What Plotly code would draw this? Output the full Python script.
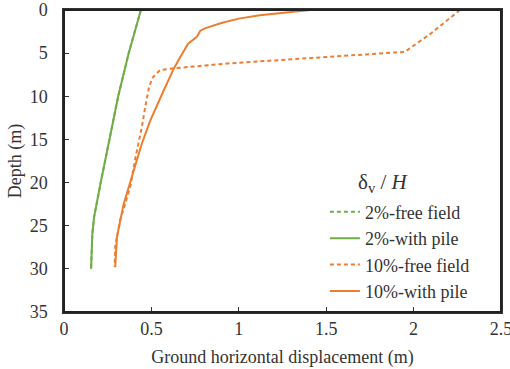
import plotly.graph_objects as go

# Depth (m) and ground horizontal displacement (m)
depth_g = [0, 5, 10, 12.8, 15, 20, 22, 24, 26, 28, 30]
g_free = [0.44, 0.37, 0.31, 0.28, 0.26, 0.21, 0.19, 0.172, 0.162, 0.157, 0.155]
g_pile = [0.44, 0.37, 0.31, 0.28, 0.26, 0.21, 0.19, 0.172, 0.162, 0.157, 0.155]

depth_o_free = [0, 2.7, 4.85, 5.6, 6.2, 6.75, 6.95, 7.9, 9.1, 11.2, 13.5, 17, 20.5, 24.3, 27.4, 29.8]
o_free = [2.265, 2.10, 1.95, 1.36, 0.935, 0.63, 0.55, 0.504, 0.485, 0.465, 0.446, 0.41, 0.379, 0.322, 0.293, 0.29]

depth_o_pile = [0, 0.3, 0.6, 1.0, 1.5, 2.1, 2.4, 3.1, 3.9, 5.4, 6.8, 9.3, 12.8, 15.5, 18.6, 22.5, 26.3, 29.8]
o_pile = [1.41, 1.25, 1.12, 1.00, 0.90, 0.81, 0.78, 0.76, 0.71, 0.667, 0.628, 0.571, 0.494, 0.445, 0.398, 0.341, 0.303, 0.293]

legend_title = "δ<sub>v</sub> / <i>H</i>"

GREEN = "#70AD47"
ORANGE = "#ED7D31"
FONT = "Liberation Serif"
TXT = "#333333"

fig = go.Figure()
fig.add_trace(go.Scatter(x=g_free, y=depth_g, mode="lines", name="2%-free field",
                         line=dict(color=GREEN, width=2, dash="4px,3px")))
fig.add_trace(go.Scatter(x=g_pile, y=depth_g, mode="lines", name="2%-with pile",
                         line=dict(color=GREEN, width=2)))
fig.add_trace(go.Scatter(x=o_free, y=depth_o_free, mode="lines", name="10%-free field",
                         line=dict(color=ORANGE, width=2, dash="4px,3px")))
fig.add_trace(go.Scatter(x=o_pile, y=depth_o_pile, mode="lines", name="10%-with pile",
                         line=dict(color=ORANGE, width=2)))

axis_common = dict(showline=True, linecolor=TXT, linewidth=1.5, mirror=True,
                   showgrid=False, zeroline=False, ticks="inside", ticklen=5,
                   tickcolor=TXT, automargin=False, ticklabeloverflow="allow",
                   tickfont=dict(family=FONT, size=18, color=TXT))

fig.update_layout(
    width=510, height=369,
    margin=dict(l=64, r=9, t=10, b=57),
    plot_bgcolor="white", paper_bgcolor="white",
    font=dict(family=FONT, color=TXT),
    xaxis=dict(range=[0, 2.5], dtick=0.5, ticklabelstandoff=0,
               title=dict(text="Ground horizontal displacement (m)",
                          font=dict(family=FONT, size=18, color=TXT), standoff=12), **axis_common),
    yaxis=dict(range=[35, 0], dtick=5, ticklabelstandoff=11,
               title=dict(text="Depth (m)",
                          font=dict(family=FONT, size=18, color=TXT), standoff=3), **axis_common),
    legend=dict(x=0.597, y=0.392, xanchor="left", yanchor="top",
                bgcolor="rgba(0,0,0,0)", font=dict(family=FONT, size=18, color=TXT),
                itemwidth=30, tracegroupgap=0),
    showlegend=True,
    shapes=[dict(type="rect", xref="paper", yref="paper", x0=0, x1=1, y0=0, y1=1,
                 line=dict(color="#222222", width=2), fillcolor="rgba(0,0,0,0)", layer="above")],
    annotations=[dict(text=legend_title, xref="paper", yref="paper",
                      x=(383 - 64) / 437, y=1 - (183 - 10) / 302, xanchor="center", yanchor="middle",
                      showarrow=False, font=dict(family=FONT, size=21, color=TXT))],
)

fig.write_html("out.html", config={"displayModeBar": False},
               post_script="document.body.style.margin='0';")
